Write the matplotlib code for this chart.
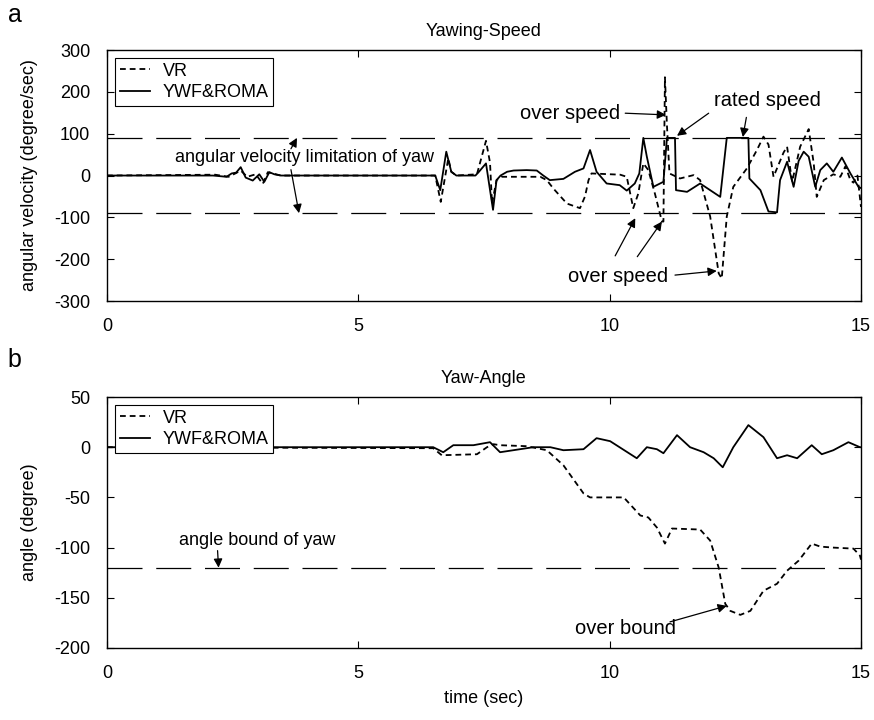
import matplotlib
matplotlib.use('Agg')
import matplotlib.pyplot as plt

plt.rcParams['font.family'] = ['Liberation Sans', 'DejaVu Sans']
plt.rcParams['axes.unicode_minus'] = False

# ---- panel a: yawing speed (degree/sec) ----
speed_ywf_t = [0, 2.11, 2.38, 2.48, 2.57, 2.66, 2.76, 2.9, 3.03, 3.13, 3.23, 3.33, 3.46,
               6.53, 6.63, 6.75, 6.85, 6.95, 7.33, 7.4, 7.54, 7.68, 7.75, 7.83, 7.96,
               8.09, 8.35, 8.55, 8.68, 8.81, 9.08, 9.31, 9.48, 9.61, 9.74, 9.94, 10.2,
               10.34, 10.5, 10.59, 10.67, 10.74, 10.87, 11.07, 11.14, 11.3, 11.32, 11.54,
               11.8, 12.0, 12.2, 12.33, 12.76, 12.78, 13.0, 13.16, 13.33, 13.39, 13.53,
               13.66, 13.76, 13.86, 13.96, 14.09, 14.19, 14.32, 14.45, 14.62, 14.79,
               14.95, 15.0]
speed_ywf = [0, 0, -3, 5, 7, 20, -5, -12, 3, -15, 8, 3, 0,
             0, -35, 57, 9, 0, 0, 9, 29, -82, -11, 0, 9,
             12, 13, 12, 0, -11, -8, 9, 17, 61, 9, -19, -23,
             -36, -19, 5, 90, 45, -27, -15, 90, 90, -35, -39,
             -19, -35, -51, 90, 90, -7, -35, -86, -88, -11, 33,
             -27, 35, 57, 45, -27, 13, 29, 9, 43, 5,
             -27, -30]

speed_vr_t = [0, 2.15, 2.42, 2.57, 2.66, 2.79, 2.96, 3.1, 3.2, 3.36, 3.46,
              6.53, 6.64, 6.79, 6.85, 6.95, 7.36, 7.54, 7.62, 7.66, 7.75, 7.85,
              8.62, 8.75, 8.88, 9.15, 9.41, 9.51, 9.58, 9.64, 10.21, 10.34, 10.47,
              10.57, 10.67, 10.77, 10.9, 11.04, 11.07, 11.1, 11.14, 11.19, 11.4,
              11.67, 11.8, 12.0, 12.17, 12.23, 12.33, 12.46, 12.73, 12.93, 13.06,
              13.16, 13.26, 13.46, 13.53, 13.63, 13.79, 13.96, 14.06, 14.12, 14.26,
              14.45, 14.59, 14.69, 14.79, 14.85, 14.93, 15.0]
speed_vr = [0, 2, -3, 6, 12, -3, 3, -20, 8, 3, 0,
            0, -63, 41, 9, 0, 3, 83, 31, -67, -11, -3,
            -3, -11, -31, -67, -78, -50, -11, 5, 2, -3, -78,
            -43, 29, 13, -43, -110, -110, 235, 120, 5, -7,
            1, -11, -98, -234, -246, -98, -27, 17, 61, 93,
            74, -3, 55, 69, -15, 69, 111, 29, -51, -11,
            3, -3, 22, -11, -17, 0, -75]

speed_limit = 90

# ---- panel b: yaw angle (degree) ----
angle_ywf_t = [0, 6.49, 6.69, 6.89, 7.29, 7.62, 7.82, 8.48, 8.82, 9.08, 9.48, 9.74,
               10.01, 10.54, 10.74, 10.94, 11.07, 11.34, 11.6, 11.87, 12.07, 12.25,
               12.46, 12.76, 13.06, 13.33, 13.53, 13.73, 14.02, 14.22, 14.45, 14.75,
               14.98, 15.0]
angle_ywf = [0, 0, -5, 2, 2, 5, -5, 0, 0, -3, -2, 9,
             6, -11, 0, -2, -6, 12, 0, -5, -11, -20,
             0, 22, 10, -11, -8, -11, 2, -7, -3, 5,
             0, 0]

angle_vr_t = [0, 6.49, 6.66, 7.36, 7.56, 7.69, 7.82, 8.35, 8.75, 9.08, 9.48, 9.61,
              10.28, 10.61, 10.77, 10.94, 11.1, 11.24, 11.8, 12.0, 12.17, 12.3, 12.4,
              12.6, 12.8, 13.06, 13.33, 13.53, 13.76, 14.02, 14.19, 14.45, 14.85,
              14.98, 15.0]
angle_vr = [0, -1, -8, -7, 0, 3, 2, 1, -3, -18, -46, -50,
            -50, -68, -70, -80, -96, -81, -82, -93, -120, -156, -163,
            -167, -163, -143, -136, -123, -113, -96, -99, -100, -101,
            -108, -112]

angle_bound = -120

fig = plt.figure(figsize=(8.74, 7.2), dpi=100)
ax1 = fig.add_axes([0.1224, 0.5819, 0.8627, 0.3486])
ax2 = fig.add_axes([0.1224, 0.1000, 0.8627, 0.3486])

dash_data = (0, (3.2, 2.2))
dash_limit = (0, (28, 11))
arrow = dict(arrowstyle='-|>', color='k', lw=0.9, mutation_scale=13,
             shrinkA=0, shrinkB=0)


def style_axes(ax):
    ax.set_xlim(0, 15)
    ax.set_xticks([0, 5, 10, 15])
    ax.tick_params(direction='in', top=True, right=True, labelsize=13,
                   length=5, width=0.8, pad=12)
    for sp in ax.spines.values():
        sp.set_linewidth(1.0)
    leg = ax.legend(loc='upper left', fontsize=13, fancybox=False, framealpha=1,
                    edgecolor='k', handlelength=1.7, handletextpad=0.7,
                    borderpad=0.25, labelspacing=0.25, borderaxespad=0.45)
    leg.get_frame().set_linewidth(0.8)


# panel a
ax1.axhline(speed_limit, color='k', lw=0.9, ls=dash_limit)
ax1.axhline(-speed_limit, color='k', lw=0.9, ls=dash_limit)
ax1.plot(speed_vr_t, speed_vr, color='k', lw=1.3, ls=dash_data, label='VR')
ax1.plot(speed_ywf_t, speed_ywf, color='k', lw=1.3, label='YWF&ROMA')
ax1.set_ylim(-300, 300)
ax1.set_yticks(range(-300, 301, 100))
ax1.set_ylabel('angular velocity (degree/sec)', fontsize=13, labelpad=12)
ax1.set_title('Yawing-Speed', fontsize=13, pad=10)
style_axes(ax1)

ax1.text(3.92, 42, 'angular velocity limitation of yaw', fontsize=13,
         ha='center', va='center')
ax1.annotate('', xy=(3.78, 90), xytext=(3.66, 64), arrowprops=arrow)
ax1.annotate('', xy=(3.82, -90), xytext=(3.66, 14), arrowprops=arrow)

ax1.text(9.21, 149, 'over speed', fontsize=14.5, ha='center', va='center')
ax1.annotate('', xy=(11.12, 145), xytext=(10.31, 149), arrowprops=arrow)

ax1.text(13.13, 180, 'rated speed', fontsize=14.5, ha='center', va='center')
ax1.annotate('', xy=(11.34, 95), xytext=(11.97, 149), arrowprops=arrow)
ax1.annotate('', xy=(12.65, 92), xytext=(12.72, 139), arrowprops=arrow)

ax1.text(10.16, -242, 'over speed', fontsize=14.5, ha='center', va='center')
ax1.annotate('', xy=(10.51, -102), xytext=(10.11, -192), arrowprops=arrow)
ax1.annotate('', xy=(11.04, -110), xytext=(10.55, -194), arrowprops=arrow)
ax1.annotate('', xy=(12.13, -228), xytext=(11.30, -238), arrowprops=arrow)

# panel b
ax2.axhline(angle_bound, color='k', lw=0.9, ls=dash_limit)
ax2.plot(angle_vr_t, angle_vr, color='k', lw=1.3, ls=dash_data, label='VR')
ax2.plot(angle_ywf_t, angle_ywf, color='k', lw=1.3, label='YWF&ROMA')
ax2.set_ylim(-200, 50)
ax2.set_yticks(range(-200, 51, 50))
ax2.set_ylabel('angle (degree)', fontsize=13, labelpad=12)
ax2.set_xlabel('time (sec)', fontsize=13, labelpad=6)
ax2.set_title('Yaw-Angle', fontsize=13, pad=10)
style_axes(ax2)

ax2.text(2.98, -93, 'angle bound of yaw', fontsize=13, ha='center', va='center')
ax2.annotate('', xy=(2.22, -120), xytext=(2.2, -103), arrowprops=arrow)

ax2.text(10.31, -181, 'over bound', fontsize=14.5, ha='center', va='center')
ax2.annotate('', xy=(12.33, -158), xytext=(11.2, -174), arrowprops=arrow)

fig.text(0.009, 0.979, 'a', fontsize=18, va='center', ha='left')
fig.text(0.009, 0.500, 'b', fontsize=18, va='center', ha='left')

fig.savefig('out.png', dpi=100)
